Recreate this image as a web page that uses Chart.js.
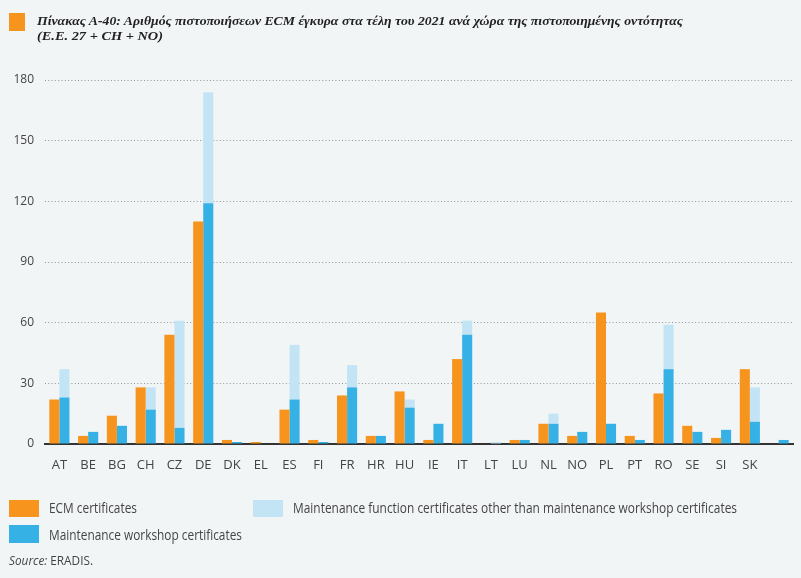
<!DOCTYPE html>
<html>
<head>
<meta charset="utf-8">
<script src="https://cdn.jsdelivr.net/npm/chart.js@4"></script>
<style>
  html, body { margin: 0; padding: 0; background: #f2f5f6; }
  #wrap { position: relative; width: 801px; height: 578px; overflow: hidden; background: #f2f5f6; }
  #chart { position: absolute; left: 0; top: 0; }
  .abs { position: absolute; white-space: nowrap; }
  .fit { display: inline-block; transform-origin: left center; }
  #title { left: 37px; top: 13px; font: italic bold 13px "Liberation Serif", serif; line-height: 15px; color: #222; }
  .sw { position: absolute; }
  .lg { font: 14px "Open Sans", sans-serif; color: #444; line-height: 18px; }
</style>
</head>
<body>
<div id="wrap">
  <canvas id="chart" width="801" height="578"></canvas>
  <div class="sw" style="left:9px;top:13px;width:16px;height:18px;background:#f7941d"></div>
  <div id="title" class="abs">
    <span class="fit" data-w="646">Πίνακας Α-40: Αριθμός πιστοποιήσεων ECM έγκυρα στα τέλη του 2021 ανά χώρα της πιστοποιημένης οντότητας</span><br>
    <span class="fit" data-w="126">(Ε.Ε. 27 + CH + NO)</span>
  </div>

  <div class="sw" style="left:9px;top:500px;width:30px;height:17px;background:#f7941d"></div>
  <div class="abs lg" style="left:49px;top:499px"><span class="fit" data-w="88">ECM certificates</span></div>
  <div class="sw" style="left:253px;top:500px;width:30px;height:17px;background:#c3e4f5"></div>
  <div class="abs lg" style="left:293px;top:499px"><span class="fit" data-w="444">Maintenance function certificates other than maintenance workshop certificates</span></div>
  <div class="sw" style="left:9px;top:525px;width:30px;height:18px;background:#35b1e5"></div>
  <div class="abs lg" style="left:49px;top:526px"><span class="fit" data-w="193">Maintenance workshop certificates</span></div>
  <div class="abs lg" style="left:9px;top:551px;font-size:13px"><span class="fit" data-w="84"><i>Source:</i> ERADIS.</span></div>
</div>
<script>
const countries = ["AT", "BE", "BG", "CH", "CZ", "DE", "DK", "EL", "ES", "FI", "FR", "HR", "HU",
                   "IE", "IT", "LT", "LU", "NL", "NO", "PL", "PT", "RO", "SE", "SI", "SK", ""];
const ecmCerts      = [22, 4, 14, 28, 54, 110, 2, 1, 17, 2, 24, 4, 26, 2, 42, 0, 2, 10, 4, 65, 4, 25, 9, 3, 37, 0];
const workshopCerts = [23, 6, 9, 17, 8, 119, 1, 0, 22, 1, 28, 4, 18, 10, 54, 0, 2, 10, 6, 10, 2, 37, 6, 7, 11, 2];
const otherCerts    = [14, 0, 0, 11, 53, 55, 0, 0, 27, 0, 11, 0, 4, 0, 7, 1, 0, 5, 0, 0, 0, 22, 0, 0, 17, 0];
const yTicks = [0, 30, 60, 90, 120, 150, 180];

// squeeze html labels to the widths they have in the picture
document.querySelectorAll(".fit").forEach(el => {
    const w = el.getBoundingClientRect().width;
    el.style.transform = "scaleX(" + (el.dataset.w / w) + ")";
});

function drawChart() {
    const ctx = document.getElementById("chart").getContext("2d");
    new Chart(ctx, {
        type: "bar",
        data: {
            labels: countries,
            datasets: [
                {label: "ECM certificates", data: ecmCerts, backgroundColor: "#f7941d", stack: "ecm"},
                {label: "Maintenance workshop certificates", data: workshopCerts, backgroundColor: "#35b1e5", stack: "mw"},
                {label: "Maintenance function certificates other than maintenance workshop certificates",
                 data: otherCerts, backgroundColor: "#c3e4f5", stack: "mw"}
            ]
        },
        options: {
            responsive: false,
            animation: false,
            categoryPercentage: 0.7,
            barPercentage: 1.0,
            layout: {padding: {top: 80, right: 8, bottom: 0, left: 0}},
            plugins: {legend: {display: false}, tooltip: {enabled: false}},
            scales: {
                x: {
                    stacked: true,
                    grid: {display: false, drawTicks: false},
                    border: {display: true, color: "#333", width: 2},
                    ticks: {color: "#444", padding: 13, font: {family: "Open Sans", size: 13}, maxRotation: 0, autoSkip: false},
                    afterFit: s => { s.height = 134; }
                },
                y: {
                    stacked: true,
                    min: 0,
                    max: 180,
                    afterBuildTicks: s => { s.ticks = yTicks.map(v => ({value: v})); },
                    grid: {
                        drawTicks: false,
                        color: c => c.tick && c.tick.value === 0 ? "rgba(0,0,0,0)" : "#8f969a"
                    },
                    border: {display: false, dash: [1, 2.3]},
                    ticks: {color: "#444", padding: 11, font: {family: "Open Sans", size: 12}},
                    afterFit: s => { s.width = 45; }
                }
            }
        }
    });
}

window.onload = drawChart;
</script>
</body>
</html>
